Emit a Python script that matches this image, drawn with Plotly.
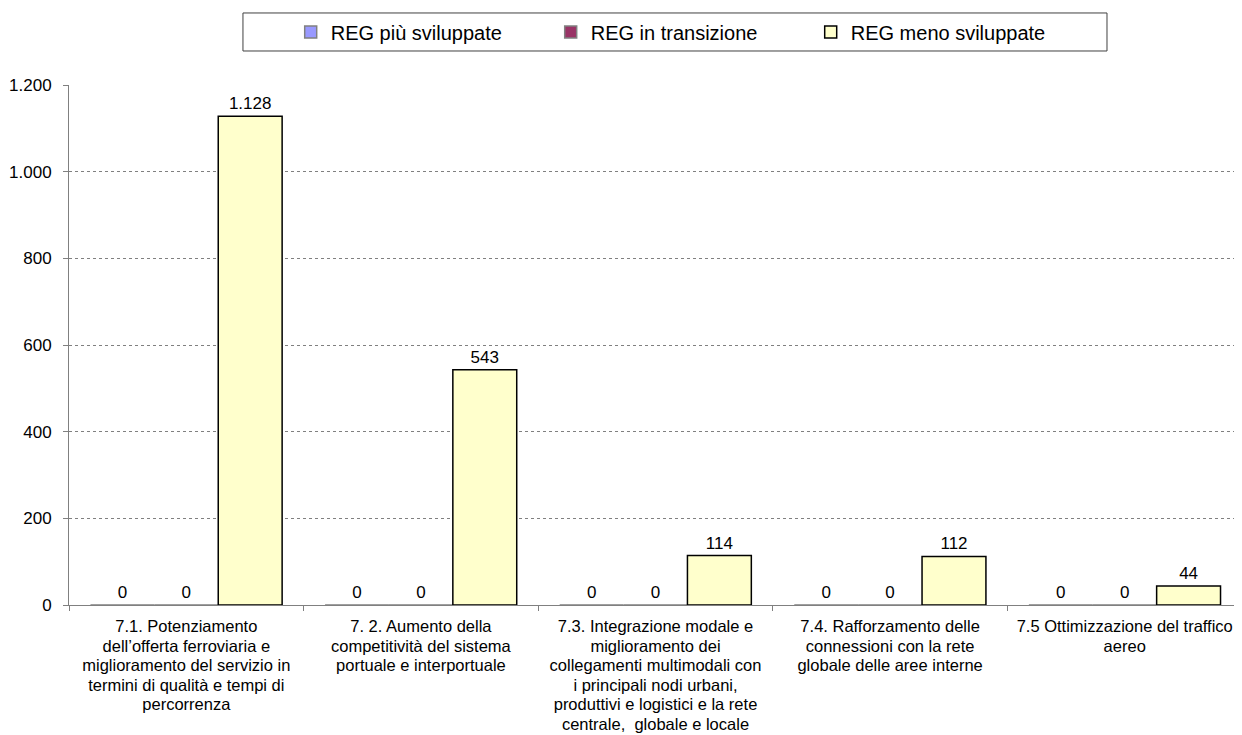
import plotly.graph_objects as go

categories = [
    "7.1. Potenziamento<br>dell’offerta ferroviaria e<br>miglioramento del servizio in<br>termini di qualità e tempi di<br>percorrenza",
    "7. 2. Aumento della<br>competitività del sistema<br>portuale e interportuale",
    "7.3. Integrazione modale e<br>miglioramento dei<br>collegamenti multimodali con<br>i principali nodi urbani,<br>produttivi e logistici e la rete<br>centrale,  globale e locale",
    "7.4. Rafforzamento delle<br>connessioni con la rete<br>globale delle aree interne",
    "7.5 Ottimizzazione del traffico<br>aereo",
]
series_names = ["REG più sviluppate", "REG in transizione", "REG meno sviluppate"]
reg_piu = [0, 0, 0, 0, 0]
reg_trans = [0, 0, 0, 0, 0]
reg_meno = [1128, 543, 114, 112, 44]
y_ticks = [0, 200, 400, 600, 800, 1000, 1200]

colors = ["#9999FF", "#993366", "#FFFFCC"]
FONT = "Liberation Sans, Arial, sans-serif"
AXIS_GRAY = "#808080"

# tick text: larger glyphs, tighter line spacing (line spacing follows the base tickfont size)
ticktext = ["<br>".join('<span style="font-size:16.5px">%s</span>' % ln for ln in c.split("<br>"))
            for c in categories]

fig = go.Figure()
for name, vals, col in zip(series_names, [reg_piu, reg_trans, reg_meno], colors):
    fig.add_trace(go.Bar(
        x=categories, y=vals, name=name,
        marker=dict(color=col,
                    line=dict(color=["black" if v else AXIS_GRAY for v in vals], width=1.5)),
        text=vals, texttemplate="%{y:,d}", textposition="outside",
        textfont=dict(family=FONT, size=17, color="black"),
        cliponaxis=False,
    ))

fig.update_layout(
    width=1234, height=727,
    margin=dict(l=61, r=0, t=77, b=130),
    paper_bgcolor="white", plot_bgcolor="white",
    separators=",.",
    barmode="group", bargap=0.183, bargroupgap=0,
    font=dict(family=FONT, size=17, color="black"),
    showlegend=True,
    legend=dict(
        orientation="h", x=0.189, xanchor="left", y=1.102, yanchor="middle",
        borderwidth=0, bgcolor="rgba(0,0,0,0)",
        font=dict(family=FONT, size=20, color="black"),
        entrywidth=215, itemwidth=30, traceorder="normal",
    ),
    shapes=[dict(type="rect", xref="paper", yref="paper",
                 x0=0.1483, x1=0.8849, y0=1.0654, y1=1.1385,
                 line=dict(color="#404040", width=1), fillcolor="rgba(0,0,0,0)", layer="below")],
    xaxis=dict(
        tickmode="array", tickvals=categories, ticktext=ticktext,
        showline=True, linecolor=AXIS_GRAY, linewidth=1,
        ticks="outside", tickson="boundaries", ticklen=5, tickcolor=AXIS_GRAY,
        ticklabelstandoff=8,
        tickfont=dict(family=FONT, size=15, color="black"),
        showgrid=False, automargin=False,
    ),
    yaxis=dict(
        range=[0, 1200], tickvals=y_ticks, tickformat=",d",
        showline=True, linecolor=AXIS_GRAY, linewidth=1,
        ticks="outside", ticklen=5, tickcolor=AXIS_GRAY, ticklabelstandoff=8,
        tickfont=dict(family=FONT, size=17, color="black"),
        showgrid=True, gridcolor=AXIS_GRAY, griddash="dot", gridwidth=1,
        zeroline=False, automargin=False,
    ),
)

fig.write_html("out.html")
